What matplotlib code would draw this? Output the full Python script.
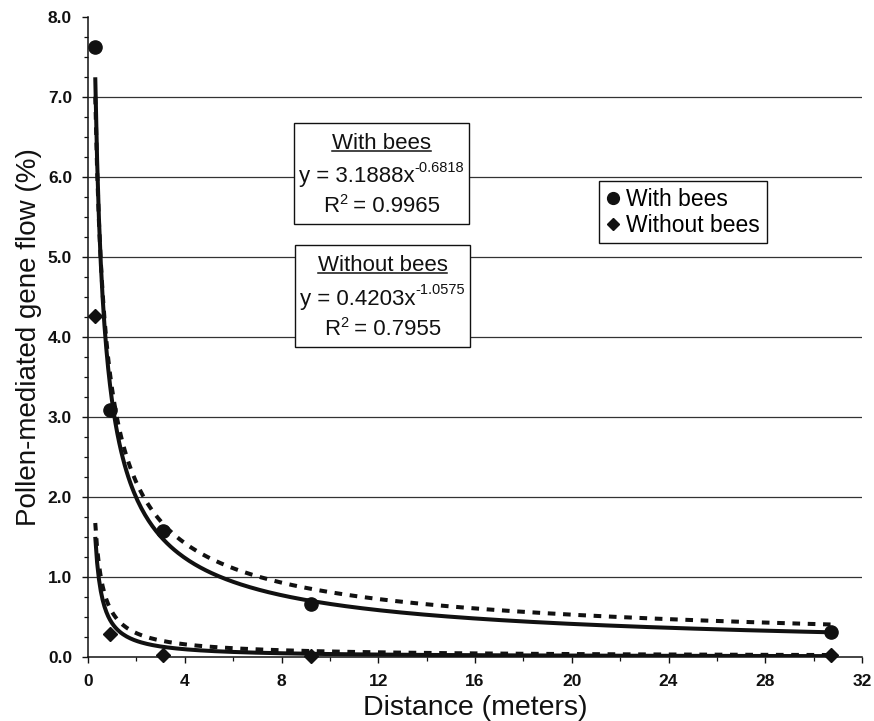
"""
Pollen-mediated gene flow vs distance, with and without bees.
Points are the observed means, curves are the power-law trend lines.
"""

import numpy as np
import matplotlib
matplotlib.use("Agg")
import matplotlib.pyplot as plt
import matplotlib.transforms as mtransforms
from matplotlib.patches import Rectangle
from matplotlib.lines import Line2D
from matplotlib.ticker import MultipleLocator, FormatStrFormatter

plt.rcParams["font.family"] = ["Liberation Sans", "DejaVu Sans"]

# ── observed data ──────────────────────────────────────────────────────────
DISTANCE_M   = [0.3, 0.9, 3.1, 9.2, 30.7]
WITH_BEES    = [7.63, 3.09, 1.57, 0.66, 0.31]
WITHOUT_BEES = [4.26, 0.29, 0.03, 0.01, 0.02]

# ── trend lines  y = a * x^b ───────────────────────────────────────────────
FIT_WITH     = (3.1888, -0.6818)   # solid, equation printed on chart
FIT_WITHOUT  = (0.4203, -1.0575)   # solid, equation printed on chart
DASH_WITH    = (3.34, -0.615)      # dashed
DASH_WITHOUT = (0.56, -0.91)       # dashed
R2_WITH      = 0.9965
R2_WITHOUT   = 0.7955

X_RANGE = (0, 32)
Y_RANGE = (0, 8)
INK = "#111111"


def power(fit, x):
    a, b = fit
    return a * np.power(x, b)


fig = plt.figure(figsize=(8.74, 7.21), dpi=100)
ax = fig.add_axes([88 / 874, 1 - 657 / 721, 774 / 874, 640 / 721])

# horizontal grid lines (none at the top edge)
ax.hlines(np.arange(1, 8), X_RANGE[0], X_RANGE[1], color="#333333",
          linewidth=0.9, zorder=1)

xs = np.linspace(DISTANCE_M[0], DISTANCE_M[-1], 400)
for fit in (FIT_WITH, FIT_WITHOUT):
    ax.plot(xs, power(fit, xs), color=INK, lw=2.9, zorder=3,
            solid_capstyle="butt")
for fit in (DASH_WITH, DASH_WITHOUT):
    ax.plot(xs, power(fit, xs), color=INK, lw=2.9, zorder=3,
            linestyle=(0, (1.9, 1.9)))

ax.plot(DISTANCE_M, WITH_BEES, "o", color=INK, markersize=9.5,
        zorder=5, clip_on=False)
ax.plot(DISTANCE_M, WITHOUT_BEES, "D", color=INK, markersize=7,
        zorder=5, clip_on=False)

# ── axes styling ───────────────────────────────────────────────────────────
ax.set_xlim(*X_RANGE)
ax.set_ylim(*Y_RANGE)
for side in ("top", "right"):
    ax.spines[side].set_visible(False)
for side in ("left", "bottom"):
    ax.spines[side].set_linewidth(1.1)
    ax.spines[side].set_color(INK)

ax.xaxis.set_major_locator(MultipleLocator(4))
ax.xaxis.set_minor_locator(MultipleLocator(2))
ax.yaxis.set_major_locator(MultipleLocator(1))
ax.yaxis.set_minor_locator(MultipleLocator(0.25))
ax.yaxis.set_major_formatter(FormatStrFormatter("%.1f"))
ax.tick_params(axis="both", which="major", direction="out", length=4.5,
               width=1.0, color=INK, labelsize=12.5)
ax.tick_params(axis="both", which="minor", direction="out", length=3,
               width=0.9, color=INK)
ax.tick_params(axis="y", which="major", pad=7)
ax.tick_params(axis="x", which="major", pad=8)
for lab in ax.get_xticklabels() + ax.get_yticklabels():
    lab.set_fontweight("bold")
    lab.set_color(INK)

ax.set_xlabel("Distance (meters)", fontsize=20.5, color=INK, labelpad=4)
ax.set_ylabel("Pollen-mediated gene flow (%)", fontsize=20, color=INK,
              labelpad=4)

# superscripts sit on a baseline raised by a fixed number of points
raised_eq = mtransforms.offset_copy(ax.transAxes, fig=fig, y=7.5, units="points")
raised_r2 = mtransforms.offset_copy(ax.transAxes, fig=fig, y=6.0, units="points")


# ── equation boxes ─────────────────────────────────────────────────────────
def sup_line(y, base, sup, raised, rest=None):
    """Base text, a raised superscript, and optional trailing text."""
    parts = [ax.text(0, y, base, transform=ax.transAxes, ha="left",
                     va="baseline", fontsize=16, color=INK, zorder=7),
             ax.text(0, y, sup, transform=raised, ha="left",
                     va="baseline", fontsize=10.5, color=INK, zorder=7)]
    if rest:
        parts.append(ax.text(0, y, rest, transform=ax.transAxes, ha="left",
                             va="baseline", fontsize=16, color=INK, zorder=7))
    return parts


def equation_box(x0, y0, x1, y1, title, fit, r2):
    ax.add_patch(Rectangle((x0, y0), x1 - x0, y1 - y0, transform=ax.transAxes,
                           facecolor="white", edgecolor=INK, lw=1.0,
                           zorder=6))
    xc = (x0 + x1) / 2
    h = y1 - y0
    t = ax.text(xc, y0 + 0.80 * h, title, transform=ax.transAxes,
                ha="center", va="center", fontsize=16, color=INK, zorder=7)
    a, b = fit
    eq = sup_line(y0 + 0.49 * h - 0.012, f"y = {a:.4f}x", f"{b:.4f}", raised_eq)
    rr = sup_line(y0 + 0.19 * h - 0.012, "R", "2", raised_r2, f" = {r2:.4f}")
    return xc, t, [eq, rr]


boxes = [
    equation_box(0.2662, 0.6766, 0.4922, 0.8344, "With bees",
                 FIT_WITH, R2_WITH),
    equation_box(0.2674, 0.4844, 0.4935, 0.6438, "Without bees",
                 FIT_WITHOUT, R2_WITHOUT),
]

# centre each composite line and underline the titles
fig.canvas.draw()
renderer = fig.canvas.get_renderer()
ax_w = ax.get_window_extent(renderer).width
inv = ax.transAxes.inverted()
for xc, title, lines in boxes:
    for parts in lines:
        widths = [p.get_window_extent(renderer).width / ax_w for p in parts]
        pos = xc - sum(widths) / 2
        for p, w in zip(parts, widths):
            p.set_x(pos)
            pos += w

    bb = title.get_window_extent(renderer)
    (ux0, uy), (ux1, _) = inv.transform([(bb.x0, bb.y0 + 3), (bb.x1, bb.y0)])
    ax.add_line(Line2D([ux0, ux1], [uy, uy], transform=ax.transAxes,
                       color=INK, lw=1.1, zorder=7))

# ── legend ─────────────────────────────────────────────────────────────────
handles = [
    Line2D([], [], marker="o", ls="none", color=INK, markersize=8.5),
    Line2D([], [], marker="D", ls="none", color=INK, markersize=6.5),
]
leg = ax.legend(handles, ["With bees", "Without bees"], loc="upper left",
                bbox_to_anchor=(0.660, 0.7438), fontsize=16.5, frameon=True,
                fancybox=False, edgecolor=INK, framealpha=1,
                borderaxespad=0, borderpad=0.3, handlelength=0.6,
                handletextpad=0.3, labelspacing=0.12)
leg.get_frame().set_linewidth(1.0)
leg.set_zorder(8)

fig.savefig("out.png", dpi=100)
